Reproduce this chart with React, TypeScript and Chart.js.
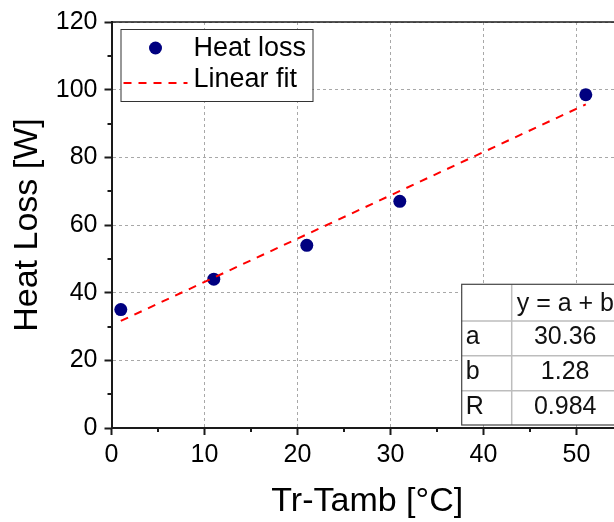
import React, { useEffect, useRef } from "react";
import { Chart, registerables } from "chart.js";

Chart.register(...registerables);

// ---- data ----
const tempDiff = [1, 11, 21, 31, 51];
const heatLoss = [35, 44, 54, 67, 98.5];
const fitX = [1, 51];
const fitY = [31.64, 95.64];
const seriesLabels = ["Heat loss", "Linear fit"];
const xTitle = "Tr-Tamb [°C]";
const yTitle = "Heat Loss [W]";
const tableHeader = "y = a + b*x";
const tableParams = ["a", "b", "R"];
const tableValues = ["30.36", "1.28", "0.984"];

const FONT = "'Liberation Sans', Arial, Helvetica, sans-serif";
const AXIS_COLOR = "#1a1a1a";
const GRID_COLOR = "#a8a8a8";

const decorPlugin = {
  id: "decor",
  afterDraw(chart: any) {
    const { ctx, chartArea: ca, scales } = chart;
    const xs = scales.x;
    const ys = scales.y;
    ctx.save();

    // top frame line
    ctx.strokeStyle = AXIS_COLOR;
    ctx.lineWidth = 1.5;
    ctx.beginPath();
    ctx.moveTo(ca.left, ca.top);
    ctx.lineTo(ca.right, ca.top);
    ctx.stroke();

    // minor ticks (halfway between majors)
    ctx.lineWidth = 2;
    ctx.beginPath();
    const xStep = 10;
    for (let v = xs.min + xStep / 2; v < xs.max; v += xStep) {
      const px = Math.round(xs.getPixelForValue(v));
      ctx.moveTo(px, ca.bottom);
      ctx.lineTo(px, ca.bottom + 4);
    }
    const yStep = 20;
    for (let v = ys.min + yStep / 2; v < ys.max; v += yStep) {
      const py = Math.round(ys.getPixelForValue(v));
      ctx.moveTo(ca.left, py);
      ctx.lineTo(ca.left - 4, py);
    }
    ctx.stroke();

    // legend
    const ds = chart.data.datasets;
    const lx = ca.left + 9;
    const ly = ca.top + 7;
    const lw = 192;
    const lh = 72;
    ctx.fillStyle = "#ffffff";
    ctx.fillRect(lx, ly, lw, lh);
    ctx.strokeStyle = "#333333";
    ctx.lineWidth = 1;
    ctx.strokeRect(lx + 0.5, ly + 0.5, lw, lh);

    ctx.font = `27px ${FONT}`;
    ctx.textBaseline = "middle";
    ctx.textAlign = "left";
    // item 1: marker
    ctx.beginPath();
    ctx.fillStyle = ds[0].backgroundColor;
    ctx.arc(lx + 35, ly + 19, ds[0].pointRadius, 0, Math.PI * 2);
    ctx.fill();
    ctx.fillStyle = "#000";
    ctx.fillText(seriesLabels[0], lx + 73, ly + 20);
    // item 2: dashed line
    ctx.strokeStyle = ds[1].borderColor;
    ctx.lineWidth = ds[1].borderWidth;
    ctx.setLineDash(ds[1].borderDash);
    ctx.beginPath();
    ctx.moveTo(lx + 3, ly + 54);
    ctx.lineTo(lx + 67, ly + 54);
    ctx.stroke();
    ctx.setLineDash([]);
    ctx.fillStyle = "#000";
    ctx.fillText(seriesLabels[1], lx + 73, ly + 51);

    // parameter table
    const tl = ca.right - 161.3;
    const tt = ca.top + 262.3;
    const col1 = 50;
    const tw = 170;
    const rowH = [36.7, 34.7, 35, 34.3];
    const th = rowH.reduce((a, b) => a + b, 0);
    ctx.fillStyle = "#ffffff";
    ctx.fillRect(tl, tt, tw, th);
    // inner lines
    ctx.strokeStyle = "#bdbdbd";
    ctx.lineWidth = 1.5;
    ctx.beginPath();
    ctx.moveTo(tl + col1, tt);
    ctx.lineTo(tl + col1, tt + th);
    let yy = tt;
    for (let i = 0; i < rowH.length - 1; i++) {
      yy += rowH[i];
      ctx.moveTo(tl, yy);
      ctx.lineTo(tl + tw, yy);
    }
    ctx.stroke();
    // outer border
    ctx.strokeStyle = "#444444";
    ctx.lineWidth = 1.2;
    ctx.strokeRect(tl, tt, tw, th);

    ctx.font = `25px ${FONT}`;
    ctx.fillStyle = "#111";
    ctx.textBaseline = "middle";
    ctx.textAlign = "left";
    ctx.fillText(tableHeader, tl + col1 + 5, tt + rowH[0] / 2 + 1);
    yy = tt + rowH[0];
    for (let i = 0; i < tableParams.length; i++) {
      const cy = yy + rowH[i + 1] / 2 - 1;
      ctx.textAlign = "left";
      ctx.fillText(tableParams[i], tl + 4, cy);
      ctx.textAlign = "center";
      ctx.fillText(tableValues[i], tl + col1 + 53.5, cy);
      yy += rowH[i + 1];
    }
    ctx.restore();
  },
};

export default function App() {
  const ref = useRef<HTMLCanvasElement>(null);

  useEffect(() => {
    const canvas = ref.current;
    if (!canvas) return;
    const chart = new Chart(canvas, {
      type: "scatter",
      data: {
        datasets: [
          {
            label: seriesLabels[0],
            data: tempDiff.map((x, i) => ({ x, y: heatLoss[i] })),
            backgroundColor: "#000080",
            borderColor: "#000080",
            pointRadius: 6.5,
            pointHoverRadius: 6.5,
            borderWidth: 0,
            showLine: false,
            order: 1,
          } as any,
          {
            type: "line",
            label: seriesLabels[1],
            data: fitX.map((x, i) => ({ x, y: fitY[i] })),
            borderColor: "#ff0000",
            backgroundColor: "#ff0000",
            borderWidth: 2,
            borderDash: [8, 7],
            pointRadius: 0,
            fill: false,
            showLine: true,
            tension: 0,
            order: 0,
          } as any,
        ],
      },
      options: {
        responsive: false,
        animation: false,
        devicePixelRatio: 1,
        layout: {
          padding: { left: 0, top: 17, right: 7, bottom: 0 },
          autoPadding: false,
        } as any,
        plugins: {
          legend: { display: false },
          tooltip: { enabled: false },
        },
        scales: {
          x: {
            type: "linear",
            min: 0,
            max: 55,
            afterFit: (s: any) => {
              s.height = 94;
            },
            ticks: {
              stepSize: 10,
              includeBounds: false,
              color: "#000",
              font: { family: FONT, size: 25 },
              padding: 5,
              maxRotation: 0,
            } as any,
            grid: {
              color: GRID_COLOR,
              lineWidth: 1,
              tickLength: 7,
              tickColor: AXIS_COLOR,
              tickWidth: 2,
            },
            border: { color: AXIS_COLOR, width: 2, dash: [3, 3] },
            title: {
              display: true,
              text: xTitle,
              color: "#000",
              font: { family: FONT, size: 34 },
              padding: { top: 0, bottom: 0 },
            },
          },
          y: {
            type: "linear",
            min: 0,
            max: 120,
            afterFit: (s: any) => {
              s.width = 111.5;
            },
            ticks: {
              stepSize: 20,
              color: "#000",
              font: { family: FONT, size: 25 },
              padding: 7,
            },
            grid: {
              color: GRID_COLOR,
              lineWidth: 1,
              tickLength: 7,
              tickColor: AXIS_COLOR,
              tickWidth: 2,
            },
            border: { color: AXIS_COLOR, width: 2, dash: [3, 3] },
            title: {
              display: true,
              text: yTitle,
              color: "#000",
              font: { family: FONT, size: 34 },
              padding: { top: 7.6, bottom: 0 },
            },
          },
        },
      },
      plugins: [decorPlugin],
    });
    return () => chart.destroy();
  }, []);

  return (
    <div
      style={{
        position: "absolute",
        left: 0,
        top: 0,
        width: 614,
        height: 522,
        overflow: "hidden",
        background: "#ffffff",
      }}
    >
      <canvas ref={ref} width={630} height={522} style={{ display: "block" }} />
    </div>
  );
}
